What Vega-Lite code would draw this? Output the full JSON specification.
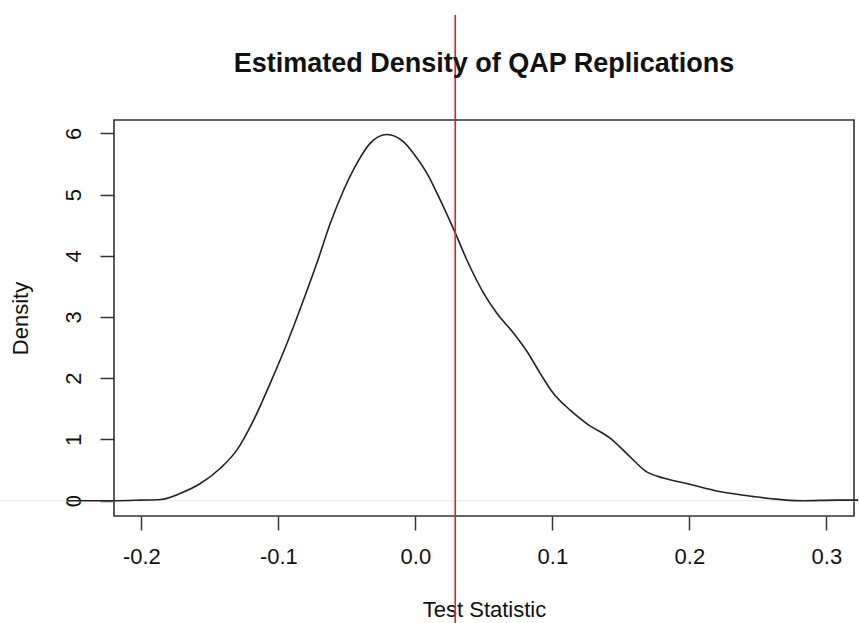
{
  "$schema": "https://vega.github.io/schema/vega-lite/v6.json",
  "width": 740,
  "height": 396,
  "autosize": {"type": "none"},
  "padding": {"left": 114, "top": 120, "right": 5, "bottom": 107},
  "background": "white",
  "config": {
    "font": "Liberation Sans",
    "view": {"stroke": "#333333", "strokeWidth": 1.6},
    "axis": {
      "domain": false,
      "grid": false,
      "tickColor": "#333333",
      "tickWidth": 1.5,
      "tickSize": 14,
      "labelFont": "Liberation Sans",
      "labelFontSize": 22,
      "labelColor": "#111111",
      "titleFont": "Liberation Sans",
      "titleFontSize": 22,
      "titleFontWeight": "normal",
      "titleColor": "#111111"
    }
  },
  "title": {
    "text": "Estimated Density of QAP Replications",
    "font": "Liberation Sans",
    "fontSize": 27,
    "fontWeight": "bold",
    "color": "#111111",
    "anchor": "middle",
    "frame": "group",
    "baseline": "alphabetic",
    "offset": 0,
    "dy": 85
  },
  "datasets": {
    "curve": [
      {"x": -0.2545, "y": 0.0},
      {"x": -0.22, "y": 0.0},
      {"x": -0.2, "y": 0.01},
      {"x": -0.186, "y": 0.02},
      {"x": -0.1715, "y": 0.12},
      {"x": -0.157, "y": 0.28},
      {"x": -0.1424, "y": 0.53},
      {"x": -0.1302, "y": 0.83},
      {"x": -0.118, "y": 1.32},
      {"x": -0.1059, "y": 1.92},
      {"x": -0.0937, "y": 2.57},
      {"x": -0.0816, "y": 3.28},
      {"x": -0.0719, "y": 3.88},
      {"x": -0.0621, "y": 4.53},
      {"x": -0.0524, "y": 5.07},
      {"x": -0.0427, "y": 5.51},
      {"x": -0.0329, "y": 5.84},
      {"x": -0.0208, "y": 5.98},
      {"x": -0.0086, "y": 5.86},
      {"x": -0.0013, "y": 5.67},
      {"x": 0.0084, "y": 5.35},
      {"x": 0.0182, "y": 4.91},
      {"x": 0.0288, "y": 4.39},
      {"x": 0.0376, "y": 3.93},
      {"x": 0.0498, "y": 3.39},
      {"x": 0.0595, "y": 3.06},
      {"x": 0.0716, "y": 2.74},
      {"x": 0.0814, "y": 2.44},
      {"x": 0.0911, "y": 2.08},
      {"x": 0.1008, "y": 1.75},
      {"x": 0.113, "y": 1.48},
      {"x": 0.1251, "y": 1.26},
      {"x": 0.1422, "y": 1.02},
      {"x": 0.1543, "y": 0.77},
      {"x": 0.1689, "y": 0.47},
      {"x": 0.1811, "y": 0.37},
      {"x": 0.1981, "y": 0.28},
      {"x": 0.222, "y": 0.15},
      {"x": 0.246, "y": 0.07},
      {"x": 0.2706, "y": 0.01},
      {"x": 0.283, "y": 0.0},
      {"x": 0.307, "y": 0.01},
      {"x": 0.3233, "y": 0.01}
    ],
    "zero": [{"x": -0.3034, "x2": 0.3233, "y": 0}],
    "observed": [{"x": 0.0291, "ytop": 7.93, "ybottom": -2.0}]
  },
  "layer": [
    {
      "data": {"name": "zero"},
      "mark": {"type": "rule", "color": "#eeeeee", "strokeWidth": 1.5, "clip": false},
      "encoding": {
        "x": {"field": "x", "type": "quantitative", "scale": {"domain": [-0.22, 0.3202], "nice": false, "zero": false}},
        "x2": {"field": "x2"},
        "y": {"field": "y", "type": "quantitative", "scale": {"domain": [-0.25, 6.217], "nice": false, "zero": false}}
      }
    },
    {
      "data": {"name": "curve"},
      "mark": {"type": "line", "color": "#222222", "strokeWidth": 1.6, "interpolate": "monotone", "clip": false},
      "encoding": {
        "x": {
          "field": "x",
          "type": "quantitative",
          "scale": {"domain": [-0.22, 0.3202], "nice": false, "zero": false},
          "axis": {
            "title": "Test Statistic",
            "values": [-0.2, -0.1, 0, 0.1, 0.2, 0.3],
            "labelExpr": "replace(format(datum.value, '.1f'), '\u2212', '-')",
            "labelPadding": 16,
            "titlePadding": 32
          }
        },
        "y": {
          "field": "y",
          "type": "quantitative",
          "scale": {"domain": [-0.25, 6.217], "nice": false, "zero": false},
          "axis": {
            "title": "Density",
            "values": [0, 1, 2, 3, 4, 5, 6],
            "format": "d",
            "labelAngle": -90,
            "labelAlign": "center",
            "labelBaseline": "bottom",
            "labelPadding": 15,
            "titlePadding": 30
          }
        }
      }
    },
    {
      "data": {"name": "observed"},
      "mark": {"type": "rule", "color": "#ee1c24", "strokeWidth": 1.6, "clip": false},
      "encoding": {
        "x": {"field": "x", "type": "quantitative"},
        "y": {"field": "ytop", "type": "quantitative"},
        "y2": {"field": "ybottom"}
      }
    }
  ]
}
